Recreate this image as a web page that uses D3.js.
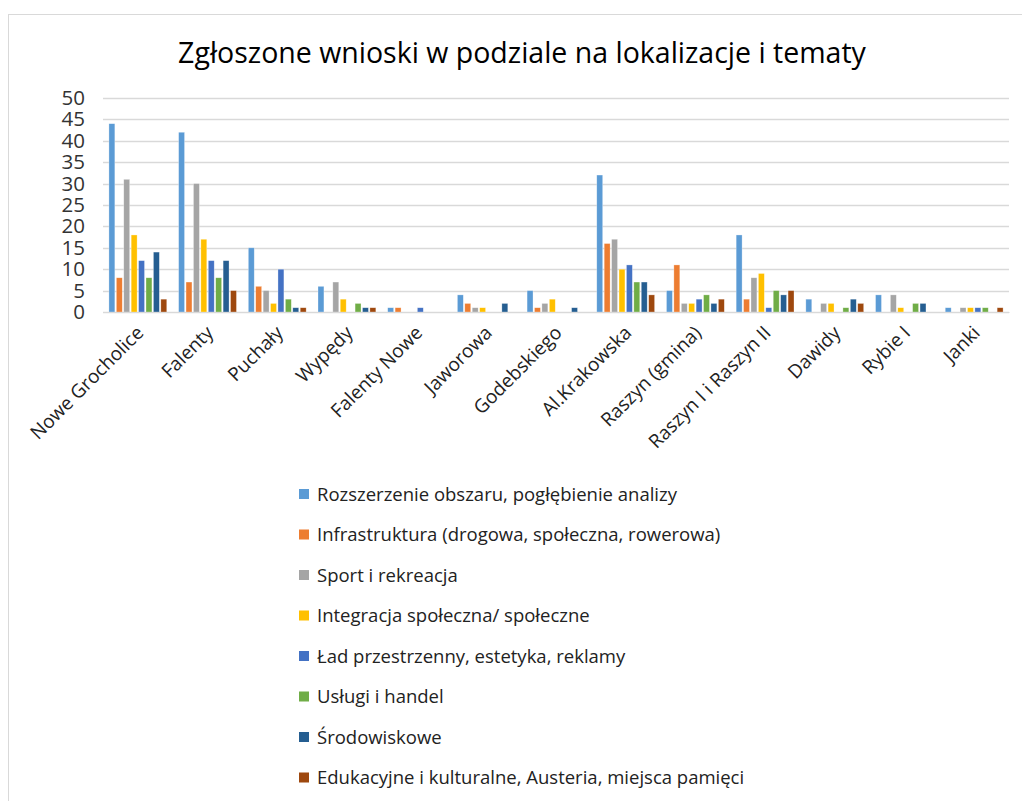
<!DOCTYPE html>
<html>
<head>
<meta charset="utf-8">
<script src="https://cdn.jsdelivr.net/npm/d3@7"></script>
<style>
  body { margin: 0; background: #fff; }
  svg { display: block; font-family: "Open Sans", "Noto Sans", sans-serif; }
</style>
</head>
<body>
<svg id="chart"></svg>
<script>
// locations on the x axis
var locations = ["Nowe Grocholice", "Falenty", "Puchały", "Wypędy", "Falenty Nowe", "Jaworowa",
  "Godebskiego", "Al.Krakowska", "Raszyn (gmina)", "Raszyn I i Raszyn II", "Dawidy", "Rybie I", "Janki"]

// topics (series)
var topics = [
  "Rozszerzenie obszaru, pogłębienie analizy",
  "Infrastruktura (drogowa, społeczna, rowerowa)",
  "Sport i rekreacja",
  "Integracja społeczna/ społeczne",
  "Ład przestrzenny, estetyka, reklamy",
  "Usługi i handel",
  "Środowiskowe",
  "Edukacyjne i kulturalne, Austeria, miejsca pamięci"
]

// one array per topic, value per location
var rozszerzenie = [44, 42, 15, 6, 1, 4, 5, 32, 5, 18, 3, 4, 1]
var infrastruktura = [8, 7, 6, 0, 1, 2, 1, 16, 11, 3, 0, 0, 0]
var sport = [31, 30, 5, 7, 0, 1, 2, 17, 2, 8, 2, 4, 1]
var integracja = [18, 17, 2, 3, 0, 1, 3, 10, 2, 9, 2, 1, 1]
var lad = [12, 12, 10, 0, 1, 0, 0, 11, 3, 1, 0, 0, 1]
var uslugi = [8, 8, 3, 2, 0, 0, 0, 7, 4, 5, 1, 2, 1]
var srodowiskowe = [14, 12, 1, 1, 0, 2, 1, 7, 2, 4, 3, 2, 0]
var edukacyjne = [3, 5, 1, 1, 0, 0, 0, 4, 3, 5, 2, 0, 1]

var series = [rozszerzenie, infrastruktura, sport, integracja, lad, uslugi, srodowiskowe, edukacyjne]
var colors = ["#5B9BD5", "#ED7D31", "#A5A5A5", "#FFC000", "#4472C4", "#70AD47", "#255E91", "#9E480E"]
var yTicks = [0, 5, 10, 15, 20, 25, 30, 35, 40, 45, 50]

let svgWidth = 1022
let svgHeight = 801

var svg = d3.select("#chart")
    .attr("width", svgWidth)
    .attr("height", svgHeight)

// chart frame
svg.append("rect")
    .attr("x", 8.5).attr("y", 14.5)
    .attr("width", 1030).attr("height", 800)
    .attr("fill", "#fff")
    .attr("stroke", "#d9d9d9")

svg.append("text")
    .attr("x", 522).attr("y", 63)
    .attr("text-anchor", "middle")
    .attr("font-size", 28.5)
    .attr("fill", "#000")
    .text("Zgłoszone wnioski w podziale na lokalizacje i tematy")

var x0 = d3.scaleBand().domain(locations).range([103, 1009]).paddingInner(0.17).paddingOuter(0.085)
var x1 = d3.scaleBand().domain(d3.range(series.length)).range([0, x0.bandwidth()]).paddingInner(0.2)
var y = d3.scaleLinear().domain([0, 50]).range([312, 98])

// gridlines
svg.append("g").selectAll("line")
    .data(yTicks)
    .enter().append("line")
    .attr("x1", 103).attr("x2", 1009)
    .attr("y1", d => Math.round(y(d)) + 0.5)
    .attr("y2", d => Math.round(y(d)) + 0.5)
    .attr("stroke", "#d9d9d9")
    .attr("stroke-width", 1.3)

// y axis labels
var yAxis = d3.axisLeft(y).tickValues(yTicks).tickSize(0).tickPadding(0)
svg.append("g")
    .attr("transform", "translate(85,0)")
    .call(yAxis)
    .call(g => g.select(".domain").remove())
    .selectAll("text")
    .attr("font-size", 20.5)
    .attr("font-family", "\"Open Sans\", \"Noto Sans\", sans-serif")
    .attr("fill", "#333")

// bars
var groups = svg.append("g").selectAll("g")
    .data(series)
    .enter().append("g")
    .attr("fill", (d, i) => colors[i])

groups.each(function(vals, si) {
    d3.select(this).selectAll("rect")
        .data(vals)
        .enter().append("rect")
        .attr("x", (d, i) => x0(locations[i]) + x1(si))
        .attr("width", x1.bandwidth())
        .attr("y", d => y(d))
        .attr("height", d => y(0) - y(d))
        .attr("stroke", "rgba(255,255,255,0.5)")
        .attr("stroke-width", 0.6)
})

// x axis labels
var xAxis = d3.axisBottom(x0).tickSize(0).tickPadding(0)
svg.append("g")
    .attr("transform", "translate(0,312)")
    .call(xAxis)
    .call(g => g.select(".domain").attr("stroke", "#d9d9d9"))
    .selectAll("text")
    .attr("font-size", 19)
    .attr("font-family", "\"Open Sans\", \"Noto Sans\", sans-serif")
    .attr("fill", "#222")
    .attr("text-anchor", "end")
    .attr("dy", 0)
    .attr("transform", "translate(7,22) rotate(-45)")

// legend
var legend = svg.append("g").selectAll("g")
    .data(topics)
    .enter().append("g")
    .attr("transform", (d, i) => "translate(299," + (494 + i * 40.5) + ")")

legend.append("rect")
    .attr("x", 0).attr("y", -5)
    .attr("width", 10).attr("height", 10)
    .attr("fill", (d, i) => colors[i])

legend.append("text")
    .attr("x", 18).attr("y", 0)
    .attr("dy", "0.36em")
    .attr("font-size", 18.5)
    .attr("fill", "#222")
    .text(d => d)
</script>
</body>
</html>
